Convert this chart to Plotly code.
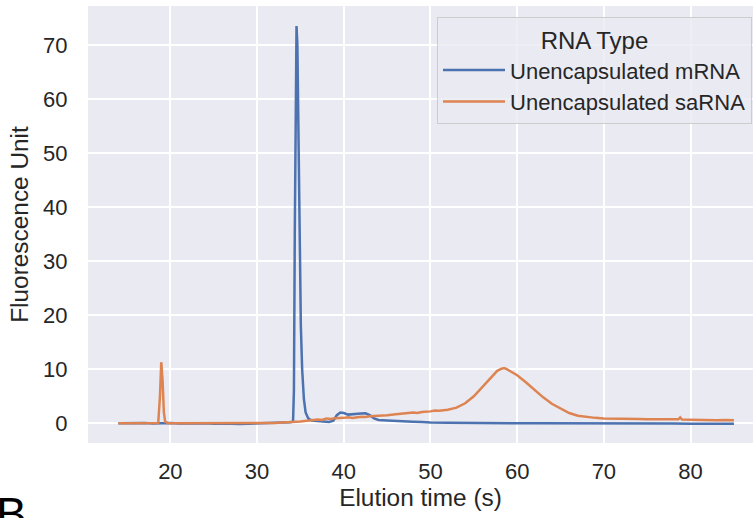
import plotly.graph_objects as go

# ---- data ----
mrna_x = [14.0, 15.0, 16.0, 17.0, 18.0, 19.0, 20.0, 21.0, 22.0, 23.0, 24.0, 25.0, 26.0, 27.0,
          28.0, 29.0, 30.0, 31.0, 32.0, 33.0, 33.8, 34.15, 34.25, 34.35, 34.45, 34.55, 34.65,
          34.75, 34.85, 34.95, 35.05, 35.2, 35.4, 35.6, 35.9, 36.3, 37.0, 37.6, 38.3, 38.8,
          39.2, 39.6, 40.0, 40.5, 41.0, 41.5, 42.0, 42.5, 43.0, 43.5, 44.0, 45.0, 46.0, 47.0,
          48.0, 49.0, 50.0, 52.0, 54.0, 56.0, 58.0, 60.0, 62.0, 64.0, 66.0, 68.0, 70.0, 72.0,
          74.0, 76.0, 78.0, 80.0, 82.0, 84.0, 85.0]
mrna_y = [0.0, 0.05, 0.0, 0.05, -0.05, 0.0, 0.05, -0.05, 0.0, -0.05, 0.0, -0.1, -0.05, -0.1,
          -0.15, -0.1, -0.05, 0.0, 0.05, 0.15, 0.2, 0.3, 6.0, 35.0, 68.0, 73.5, 70.0,
          57.0, 42.0, 28.0, 18.0, 10.0, 4.5, 2.0, 0.9, 0.5, 0.45, 0.3, 0.25, 0.5,
          1.5, 2.0, 1.9, 1.6, 1.7, 1.75, 1.8, 1.85, 1.5, 0.9, 0.6, 0.5, 0.4, 0.35,
          0.3, 0.25, 0.15, 0.1, 0.05, 0.0, 0.0, 0.0, 0.0, 0.0, 0.05, 0.0, 0.0, -0.05,
          -0.05, -0.05, -0.05, -0.1, -0.1, -0.1, -0.1]

sarna_x = [14.0, 15.0, 16.0, 17.0, 18.0, 18.6, 18.8, 18.95, 19.1, 19.25, 19.4, 19.7, 20.0,
           22.0, 24.0, 26.0, 28.0, 30.0, 31.0, 32.0, 33.0, 34.0, 35.0, 36.0, 37.0, 37.5,
           38.0, 38.5, 39.0, 40.0, 40.5, 41.0, 42.0, 42.5, 43.0, 44.0, 44.5, 45.0, 46.0,
           46.5, 47.0, 48.0, 48.5, 49.0, 50.0, 50.5, 51.0, 52.0, 53.0, 54.0, 55.0, 56.0,
           57.0, 57.7, 58.2, 58.5, 58.8, 59.4, 60.0, 61.0, 62.0, 63.0, 64.0, 65.0, 66.0,
           67.0, 68.0, 69.0, 70.0, 71.0, 72.0, 73.0, 74.0, 75.0, 76.0, 77.0, 78.0, 78.6,
           78.8, 79.0, 80.0, 81.0, 82.0, 83.0, 84.0, 85.0]
sarna_y = [0.0, 0.0, 0.05, 0.0, 0.0, 0.05, 5.0, 11.3, 8.0, 2.0, 0.3, 0.05, 0.0,
           0.0, -0.05, 0.0, -0.05, -0.05, 0.0, 0.05, 0.15, 0.2, 0.35, 0.5, 0.7, 0.6,
           0.9, 0.8, 0.95, 1.0, 1.1, 1.0, 1.2, 1.15, 1.3, 1.4, 1.5, 1.5, 1.65,
           1.75, 1.8, 2.0, 1.9, 2.1, 2.2, 2.35, 2.3, 2.5, 2.9, 3.7, 5.0, 6.8,
           8.6, 9.7, 10.1, 10.2, 10.0, 9.5, 8.9, 7.6, 6.2, 4.8, 3.6, 2.7, 1.9,
           1.4, 1.15, 1.0, 0.9, 0.9, 0.85, 0.8, 0.8, 0.75, 0.75, 0.7, 0.7, 0.75,
           1.1, 0.7, 0.65, 0.6, 0.6, 0.55, 0.6, 0.55]

x_ticks = [20, 30, 40, 50, 60, 70, 80]
y_ticks = [0, 10, 20, 30, 40, 50, 60, 70]

FONT = "Liberation Sans, Arial, sans-serif"
TXT = "#262626"

fig = go.Figure()
fig.add_trace(go.Scatter(x=mrna_x, y=mrna_y, mode="lines", name="Unencapsulated mRNA",
                         line=dict(color="#4C72B0", width=2.5)))
fig.add_trace(go.Scatter(x=sarna_x, y=sarna_y, mode="lines", name="Unencapsulated saRNA",
                         line=dict(color="#DD8452", width=2.5)))

fig.update_layout(
    width=753, height=518,
    margin=dict(l=88, r=0, t=6, b=75, autoexpand=False),
    paper_bgcolor="white",
    plot_bgcolor="#EAEAF2",
    font=dict(family=FONT, color=TXT, size=22),
    xaxis=dict(range=[10.5, 87.2], tickvals=x_ticks, showgrid=True, gridcolor="white",
               gridwidth=1.5, zeroline=False, showline=False, ticks="outside",
               ticklen=9, tickcolor="rgba(0,0,0,0)", tickfont=dict(size=22),
               automargin=False,
               title=dict(text="Elution time (s)", font=dict(size=24.4), standoff=5)),
    yaxis=dict(range=[-3.65, 77.2], tickvals=y_ticks, showgrid=True, gridcolor="white",
               gridwidth=1.5, zeroline=False, showline=False, ticks="outside",
               ticklen=15, tickcolor="rgba(0,0,0,0)", tickfont=dict(size=22),
               automargin=False,
               title=dict(text="Fluorescence Unit", font=dict(size=24.4), standoff=7)),
    legend=dict(x=0.9985, xanchor="right", y=0.975, yanchor="top",
                bgcolor="rgba(234,234,242,0.8)", bordercolor="#CCCCCC", borderwidth=1,
                font=dict(size=22, color=TXT), itemwidth=62,
                title=dict(text="RNA Type", side="top center", font=dict(size=24))),
    showlegend=True,
)

fig.add_annotation(text="B", xref="paper", yref="paper", x=0, y=-0.098,
                   xanchor="left", yanchor="top", showarrow=False, xshift=-94,
                   font=dict(size=46, color="black", family=FONT))

fig.write_html("out.html", config={"displayModeBar": False},
               post_script="document.body.style.margin='0';")
